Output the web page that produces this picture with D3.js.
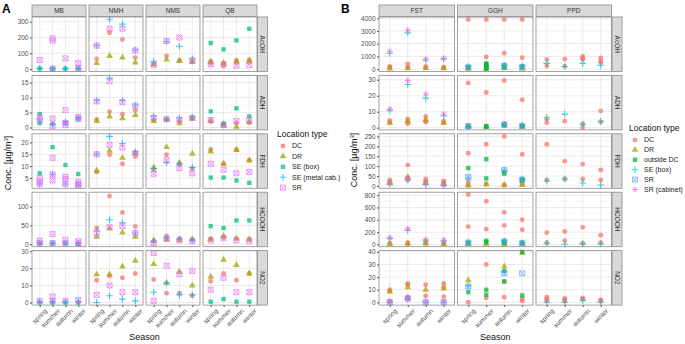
<!DOCTYPE html>
<html>
<head>
<meta charset="utf-8">
<script src="https://cdn.jsdelivr.net/npm/d3@7"></script>
<style>
  body { margin: 0; background: #fff; }
  text { font-family: "Liberation Sans", Arial, sans-serif; }
</style>
</head>
<body>
<div id="chart"></div>
<script>
// categories
var seasons = ["spring", "summer", "autumn", "winter"];
var compounds = ["AcOH", "ADH", "FDH", "HCOOH", "NO2"];
var sitesA = ["MB", "NMH", "NMS", "QB"];
var sitesB = ["FST", "GGH", "PPD"];
var typesA = ["DC", "DR", "SE (box)", "SE (metal cab.)", "SR"];
var typesB = ["DC", "DR", "outside DC", "SE (box)", "SR", "SR (cabinet)"];

// y tick labels per compound row
var ticksA = [[0, 100, 200, 300], [0, 5, 10, 15], [5, 10, 15, 20], [0, 50, 100], [0, 10, 20, 30]];
var ticksB = [[0, 1000, 2000, 3000, 4000], [0, 10, 20, 30], [0, 50, 100, 150, 200, 250], [0, 200, 400, 600, 800], [0, 10, 20, 30, 40]];
var domainsA = [[-15, 330], [-0.8, 17.4], [0.7, 23.6], [-6.5, 138], [-1.5, 30.4]];
var domainsB = [[-190, 4100], [-1.4, 32.7], [-12, 263], [-35, 847], [-2.2, 41]];

// values: [site, compound, [spring, summer, autumn, winter]] (a cell can hold several samples)
var aDC = [
  ["NMH", "AcOH", [65, 230, 188, 73]],
  ["NMS", "AcOH", [33, 83, 55, 45]],
  ["QB", "AcOH", [[52, 38], [35, 20], [55, 42], [58, 45]]],
  ["NMH", "ADH", [2.7, 5.3, 4.4, 5.8]],
  ["NMS", "ADH", [2.5, 2.6, 2.0, 3.0]],
  ["QB", "ADH", [2, [1.2, 0.5], 1.5, 1.6]],
  ["NMH", "FDH", [7.5, 14.8, 11, 14]],
  ["NMS", "FDH", [8.5, 14.8, 10.8, 8.8]],
  ["QB", "FDH", [17, 11, 17, 12.5]],
  ["NMH", "HCOOH", [43, 128, 84, 47]],
  ["NMS", "HCOOH", [8, 22, 15, 12]],
  ["QB", "HCOOH", [14, 18, 15, 14]],
  ["NMH", "NO2", [13, 15.5, 14.5, 17]],
  ["NMS", "NO2", [13.5, 5.5, 5.5, 4]],
  ["QB", "NO2", [12.5, 17, 13, 17]]
];
var aDR = [
  ["NMH", "AcOH", [38, 83, 73, 42]],
  ["NMS", "AcOH", [30, 60, 52, 45]],
  ["QB", "AcOH", [45, 40, 50, 55]],
  ["NMH", "ADH", [2.2, 3.7, 3.1, 4.2]],
  ["NMS", "ADH", [2.2, 2.6, 1.4, 3.0]],
  ["QB", "ADH", [2.2, 1.0, 0.2, 1.8]],
  ["NMH", "FDH", [8.2, 16.5, 13.5, 15.5]],
  ["NMS", "FDH", [9.5, 18, 11.5, 15.2]],
  ["QB", "FDH", [16.3, 11, 16.8, 12.5]],
  ["NMH", "HCOOH", [20, 42, 31, 20]],
  ["NMS", "HCOOH", [10, 13, 12, 13]],
  ["QB", "HCOOH", [13, 22, 15, 12]],
  ["NMH", "NO2", [16.5, 16.5, 21, 24.5]],
  ["NMS", "NO2", [22.5, 11.5, 18, 10]],
  ["QB", "NO2", [15, 25, 22, 17]]
];
var aSEbox = [
  ["MB", "AcOH", [3, 2, 3, 3]],
  ["QB", "AcOH", [165, 125, 182, 255]],
  ["MB", "ADH", [[4.5, 1.5], 1.2, 1.5, 3]],
  ["QB", "ADH", [5.4, 1.3, 6.4, 3.7]],
  ["MB", "FDH", [7, 18, 10.5, 6.7]],
  ["QB", "FDH", [5.2, 5.2, 4, 3]],
  ["MB", "HCOOH", [2, 2, 2, 1]],
  ["QB", "HCOOH", [48, 43, 63, 63]],
  ["MB", "NO2", [0, 0, 0, 0]],
  ["QB", "NO2", [0.5, 2, 0.5, 0.5]]
];
var aSEmetal = [
  ["MB", "AcOH", [5, 3, 3, 3]],
  ["NMH", "AcOH", [150, 316, 285, 120]],
  ["NMS", "AcOH", [50, 175, 145, 65]],
  ["MB", "ADH", [2.5, 1, 1.8, 3.2]],
  ["NMH", "ADH", [9, 16.5, 9, 7.5]],
  ["NMS", "ADH", [3.8, 2.8, 3.2, 3.5]],
  ["MB", "FDH", [2.5, 6.5, 2.5, 2]],
  ["NMH", "FDH", [15, 22.5, 19.5, 16]],
  ["NMS", "FDH", [9, 11.5, 11, 9.5]],
  ["MB", "HCOOH", [3, 3, 4, 2]],
  ["NMH", "HCOOH", [35, 65, 57, 30]],
  ["NMS", "HCOOH", [8, 17, 14, 10]],
  ["MB", "NO2", [0.5, 0.5, 0.5, 0.5]],
  ["NMH", "NO2", [0, 4, 2, 1]],
  ["NMS", "NO2", [6, 11.5, 4.5, 4.5]]
];
var aSR = [
  ["MB", "AcOH", [58, [195, 180, 3], 68, [38, 8]]],
  ["NMH", "AcOH", [148, 256, 256, 118]],
  ["NMS", "AcOH", [28, 178, 200, 55]],
  ["QB", "AcOH", [30, 30, 22, 25]],
  ["MB", "ADH", [[3.5, 2.5], [3, 0.5], [5.8, 1.5, 0.8], [3.5, 2.8]]],
  ["NMH", "ADH", [8.7, 15.5, 8.5, 7.3]],
  ["NMS", "ADH", [3.3, 2.8, 2.6, 3.2]],
  ["QB", "ADH", [2.5, 0.8, 2.2, 2.5]],
  ["MB", "FDH", [[5, 3.5, 2.5], [13.5, 6.5, 4], [5.5, 4.5, 2.5], [3.5, 2.5, 1.8]]],
  ["NMH", "FDH", [15, 19, 17.8, 15.5]],
  ["NMS", "FDH", [6.8, 12.5, 9.2, 7]],
  ["QB", "FDH", [11, 8.5, 7, 7.5]],
  ["MB", "HCOOH", [[10, 3], [27, 3], [12, 3], [8, 2]]],
  ["NMH", "HCOOH", [30, 45, 48, 30]],
  ["NMS", "HCOOH", [3, 14, 10, 8]],
  ["QB", "HCOOH", [10, 16, 10, 8]],
  ["MB", "NO2", [1, [3.5, 1], 1, 1.5]],
  ["NMH", "NO2", [4.5, 10, 6, 6]],
  ["NMS", "NO2", [[29, 1], 21.5, 16.5, 18.5]],
  ["QB", "NO2", [7.5, 14.5, 6, 6]]
];

var bDC = [
  ["FST", "AcOH", [[200, 120], [400, 150], [200, 100], [150, 100]]],
  ["GGH", "AcOH", [[3900, 50], [3900, 950], [3900, 1250], [3900, 900]]],
  ["PPD", "AcOH", [[760, 240], [790, 236], [1000, 880, 760], [880, 630, 520]]],
  ["FST", "ADH", [[4.5, 3], [5.5, 4, 2.5], [7, 4, 3.5], [4, 3]]],
  ["GGH", "ADH", [[28, 1], [22, 0.5], [29.5, 2.5], [17.5, 1]]],
  ["PPD", "ADH", [[5.2, 3.1], 4, [2.5, 0], [10.5, 3.5]]],
  ["FST", "FDH", [[30, 20, 15], [105, 40, 30], [35, 25, 20], [25, 20, 10]]],
  ["GGH", "FDH", [[165, 20, 5], [210, 10], [250, 5], [160, 10]]],
  ["PPD", "FDH", [[210, 30], [125, 35], [110, 35], [80, 30]]],
  ["FST", "HCOOH", [20, [30, 10], [40, 20], [30, 15]]],
  ["GGH", "HCOOH", [[810, 290], [700, 250], [520, 310], [400, 240]]],
  ["PPD", "HCOOH", [[190, 30], [210, 60], [280, 20], [150, 30]]],
  ["FST", "NO2", [[10, 9, 1], [15, 14, 4.5, 3], [14, 5], [15, 12, 4.5]]],
  ["GGH", "NO2", [0, [30, 3.5], [16.5, 4], [3, 1]]],
  ["PPD", "NO2", [[4, 2.5, 1.5], [3, 2, 1], [3.5, 2.5], [2, 1]]]
];
var bDR = [
  ["FST", "AcOH", [50, 60, 80, 60]],
  ["GGH", "AcOH", [50, 50, 100, 50]],
  ["FST", "ADH", [3, 4, 5, 3]],
  ["GGH", "ADH", [0.5, 0.5, 1.5, 0.5]],
  ["FST", "FDH", [15, 45, 15, 8]],
  ["GGH", "FDH", [3, 8, 5, 5]],
  ["FST", "HCOOH", [10, 15, 15, 10]],
  ["GGH", "HCOOH", [10, 10, 10, 10]],
  ["FST", "NO2", [8.5, 12, 10, 11]],
  ["GGH", "NO2", [17.5, null, 28.5, 39]]
];
var bOutside = [
  ["GGH", "AcOH", [150, [450, 380, 300, 220, 150, 80, 20], [300, 100], 200]],
  ["GGH", "ADH", [0.5, [1, 0.5], 1.5, 1]],
  ["GGH", "FDH", [90, [135, 38], [70, 62], [35, 25]]],
  ["GGH", "HCOOH", [30, [60, 40], [50, 20], 30]],
  ["GGH", "NO2", [8, [10, 6], [25, 16.5], [40, 5.5]]]
];
var bSEbox = [
  ["FST", "AcOH", [1250, 2850, 700, 800]],
  ["GGH", "AcOH", [200, null, 300, 250]],
  ["PPD", "AcOH", [450, 180, 450, 300]],
  ["FST", "ADH", [11, 27, 18.5, 7.5]],
  ["GGH", "ADH", [0.5, null, 2, 1.5]],
  ["PPD", "ADH", [6.5, 8.5, 2, 4]],
  ["FST", "FDH", [10, 30, 8, 5]],
  ["GGH", "FDH", [40, null, 75, 35]],
  ["PPD", "FDH", [25, 35, 15, 5]],
  ["FST", "HCOOH", [100, 230, 70, 60]],
  ["GGH", "HCOOH", [40, null, 60, 30]],
  ["PPD", "HCOOH", [20, 5, 10, 10]],
  ["FST", "NO2", [0, 2.5, 0, 0]],
  ["GGH", "NO2", [13, null, 24, null]],
  ["PPD", "NO2", [0, 0, 1.5, 0]]
];
var bSR = [
  ["GGH", "AcOH", [150, null, 250, 150]],
  ["GGH", "ADH", [1, null, 2, 1]],
  ["GGH", "FDH", [45, null, 80, 30]],
  ["GGH", "HCOOH", [30, null, 50, 20]],
  ["FST", "NO2", [0, 3, 0, 0]],
  ["GGH", "NO2", [12.5, null, 23, 23]]
];
var bSRcab = [
  ["FST", "AcOH", [1400, 3050, 800, 850]],
  ["FST", "ADH", [11.5, 29.5, 21, 8.5]],
  ["FST", "FDH", [12, 35, 10, 5]],
  ["FST", "HCOOH", [110, 260, 80, 70]],
  ["FST", "NO2", [0.5, 3, 0.5, 0.5]]
];

var colorsA = ["#F8766D", "#A3A500", "#00BF7D", "#00B0F6", "#E76BF3"];
var colorsB = ["#F8766D", "#B79F00", "#00BA38", "#00BFC4", "#619CFF", "#F564E3"];
var shapesA = ["circle", "triangle", "square", "plus", "sqcross"];
var shapesB = ["circle", "triangle", "square", "plus", "sqcross", "asterisk"];

var svg = d3.select("#chart").append("svg")
  .attr("width", 685)
  .attr("height", 344);

var rowTop = 17, rowStep = 58.4, rowH = 54.5;

// marker drawing
function shapePath(shape) {
  if (shape === "circle") return d3.symbol(d3.symbolCircle, 19)();
  if (shape === "triangle") return d3.symbol(d3.symbolTriangle, 20)();
  if (shape === "square") return d3.symbol(d3.symbolSquare, 19)();
  if (shape === "plus") return "M-3.3,0H3.3M0,-3.3V3.3";
  if (shape === "sqcross") return "M-2.5,-2.5H2.5V2.5H-2.5ZM-2.5,-2.5L2.5,2.5M2.5,-2.5L-2.5,2.5";
  return "M-3,0H3M0,-3V3M-2.2,-2.2L2.2,2.2M2.2,-2.2L-2.2,2.2";
}
function isFilled(shape) {
  return shape === "circle" || shape === "triangle" || shape === "square";
}

function flatten(rows, type) {
  var out = [];
  rows.forEach(function(r) {
    r[2].forEach(function(v, k) {
      if (v === null) return;
      [].concat(v).forEach(function(val) {
        out.push({site: r[0], comp: r[1], season: seasons[k], value: val, type: type});
      });
    });
  });
  return out;
}

function drawPlot(p) {
  var g = svg.append("g");
  var x = d3.scalePoint().domain(seasons).range([0, p.panelW]).padding(0.6);
  var points = [];
  p.series.forEach(function(s, k) { points = points.concat(flatten(s, k)); });

  compounds.forEach(function(comp, j) {
    var top = rowTop + j * rowStep;
    var dom = p.domains[j];
    var y = d3.scaleLinear().domain(dom).range([top + rowH, top]);
    var t = p.ticks[j];
    var step = t[1] - t[0];
    var minors = d3.range(t[0] - step / 2, dom[1], step).filter(function(v) { return v > dom[0]; });

    p.sites.forEach(function(site, i) {
      var left = p.left + i * p.step;
      var pg = g.append("g").attr("transform", "translate(" + left + ",0)");

      pg.append("rect")
        .attr("x", 0).attr("y", top)
        .attr("width", p.panelW).attr("height", rowH)
        .attr("fill", "#fff");

      pg.selectAll(".minor").data(minors).enter().append("line")
        .attr("x1", 0).attr("x2", p.panelW)
        .attr("y1", d => y(d)).attr("y2", d => y(d))
        .attr("stroke", "#F2F2F2").attr("stroke-width", 0.5);

      pg.selectAll(".major").data(t).enter().append("line")
        .attr("x1", 0).attr("x2", p.panelW)
        .attr("y1", d => y(d)).attr("y2", d => y(d))
        .attr("stroke", "#E6E6E6").attr("stroke-width", 0.8);

      pg.selectAll(".vgrid").data(seasons).enter().append("line")
        .attr("x1", d => x(d)).attr("x2", d => x(d))
        .attr("y1", top).attr("y2", top + rowH)
        .attr("stroke", "#E6E6E6").attr("stroke-width", 0.8);

      var pts = points.filter(d => d.site === site && d.comp === comp);
      pg.selectAll(".pt").data(pts).enter().append("path")
        .attr("transform", d => "translate(" + x(d.season) + "," + y(d.value) + ")")
        .attr("d", d => shapePath(p.shapes[d.type]))
        .attr("fill", d => isFilled(p.shapes[d.type]) ? p.colors[d.type] : "none")
        .attr("stroke", d => isFilled(p.shapes[d.type]) ? "none" : p.colors[d.type])
        .attr("stroke-width", d => p.shapes[d.type] === "plus" ? 1.1 : 0.9)
        .attr("opacity", 0.75);

      pg.append("rect")
        .attr("x", 0).attr("y", top)
        .attr("width", p.panelW).attr("height", rowH)
        .attr("fill", "none").attr("stroke", "#8C8C8C").attr("stroke-width", 0.8);

      // season axis under bottom row
      if (j === compounds.length - 1) {
        var xa = pg.append("g")
          .attr("transform", "translate(0," + (top + rowH) + ")")
          .call(d3.axisBottom(x).tickSize(2).tickPadding(2));
        xa.select(".domain").remove();
        xa.selectAll("line").attr("stroke", "#555");
        xa.selectAll("text")
          .attr("font-size", "6.5px").attr("fill", "#4D4D4D")
          .attr("text-anchor", "end")
          .attr("dy", "0.55em")
          .attr("transform", "translate(2,1) rotate(-45)");
      }

      // site strip above top row
      if (j === 0) {
        pg.append("rect")
          .attr("x", 0).attr("y", 5)
          .attr("width", p.panelW).attr("height", top - 5.5)
          .attr("fill", "#D9D9D9").attr("stroke", "#8C8C8C").attr("stroke-width", 0.8);
        pg.append("text")
          .attr("x", p.panelW / 2).attr("y", 11)
          .attr("dy", "0.35em")
          .attr("text-anchor", "middle")
          .attr("font-size", "6.5px").attr("fill", "#333")
          .text(site);
      }
    });

    // y axis on first column
    var ya = g.append("g")
      .attr("transform", "translate(" + p.left + ",0)")
      .call(d3.axisLeft(y).tickValues(t).tickFormat(d3.format("~g")).tickSize(2).tickPadding(1.5));
    ya.select(".domain").remove();
    ya.selectAll("line").attr("stroke", "#555");
    ya.selectAll("text").attr("font-size", "6.5px").attr("fill", "#4D4D4D");

    // compound strip on the right
    var sx = p.left + (p.sites.length - 1) * p.step + p.panelW + 0.5;
    g.append("rect")
      .attr("x", sx).attr("y", top)
      .attr("width", 10).attr("height", rowH)
      .attr("fill", "#D9D9D9").attr("stroke", "#8C8C8C").attr("stroke-width", 0.8);
    g.append("text")
      .attr("transform", "translate(" + (sx + 5) + "," + (top + rowH / 2) + ") rotate(90)")
      .attr("dy", "0.35em")
      .attr("text-anchor", "middle")
      .attr("font-size", "6.5px").attr("fill", "#333")
      .text(comp);
  });

  // panel letter
  g.append("text")
    .attr("x", p.letterX).attr("y", 13)
    .attr("font-size", "12px").attr("font-weight", "bold")
    .text(p.letter);

  // axis titles
  var yt = g.append("text")
    .attr("transform", "translate(" + p.yTitleX + "," + p.yTitleY + ") rotate(-90)")
    .attr("text-anchor", "middle")
    .attr("font-size", "9px").attr("fill", "#111");
  yt.append("tspan").text("Conc. [µg/m");
  yt.append("tspan").attr("font-size", "6px").attr("dy", "-3").text("3");
  yt.append("tspan").attr("dy", "3").text("]");

  g.append("text")
    .attr("x", p.left + (p.sites.length * p.step - (p.step - p.panelW)) / 2)
    .attr("y", 340)
    .attr("text-anchor", "middle")
    .attr("font-size", "9px").attr("fill", "#111")
    .text("Season");

  // legend
  var lg = g.append("g").attr("transform", "translate(" + p.legX + "," + p.legY + ")");
  lg.append("text")
    .attr("x", 0).attr("y", 0).attr("dy", "0.35em")
    .attr("font-size", "8.5px").attr("fill", "#111")
    .text("Location type");
  p.types.forEach(function(tp, k) {
    var yy = 12 + k * p.legStep;
    lg.append("path")
      .attr("transform", "translate(6," + yy + ")")
      .attr("d", shapePath(p.shapes[k]))
      .attr("fill", isFilled(p.shapes[k]) ? p.colors[k] : "none")
      .attr("stroke", isFilled(p.shapes[k]) ? "none" : p.colors[k])
      .attr("stroke-width", p.shapes[k] === "plus" ? 1.1 : 0.9)
      .attr("opacity", 0.75);
    lg.append("text")
      .attr("x", 15).attr("y", yy).attr("dy", "0.35em")
      .attr("font-size", "7px").attr("fill", "#222")
      .text(tp);
  });
}

drawPlot({
  letter: "A", letterX: 2,
  left: 32, panelW: 54, step: 57,
  sites: sitesA, types: typesA, colors: colorsA, shapes: shapesA,
  series: [aDC, aDR, aSEbox, aSEmetal, aSR],
  ticks: ticksA, domains: domainsA,
  yTitleX: 11, yTitleY: 163,
  legX: 277, legY: 134, legStep: 10.4
});

drawPlot({
  letter: "B", letterX: 341,
  left: 379, panelW: 75.5, step: 78.5,
  sites: sitesB, types: typesB, colors: colorsB, shapes: shapesB,
  series: [bDC, bDR, bOutside, bSEbox, bSR, bSRcab],
  ticks: ticksB, domains: domainsB,
  yTitleX: 357, yTitleY: 160,
  legX: 629, legY: 128, legStep: 9.9
});
</script>
</body>
</html>
